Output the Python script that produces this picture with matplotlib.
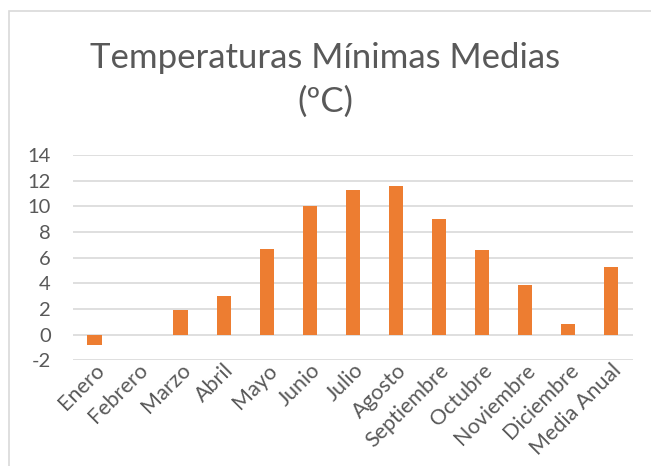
import numpy as np
import matplotlib.pyplot as plt
from matplotlib.patches import Rectangle

plt.rcParams['font.family'] = ['Lato', 'DejaVu Sans']

# datos
meses = ['Enero', 'Febrero', 'Marzo', 'Abril', 'Mayo', 'Junio', 'Julio',
         'Agosto', 'Septiembre', 'Octubre', 'Noviembre', 'Diciembre', 'Media Anual']
temp_min = [-0.8, -0.05, 1.9, 3.0, 6.7, 10.0, 11.3, 11.6, 9.0, 6.6, 3.9, 0.8, 5.3]
yticks = [-2, 0, 2, 4, 6, 8, 10, 12, 14]

gris = '#595959'

fig = plt.figure(figsize=(6.51, 4.66), dpi=100)
ax = fig.add_axes([0.112, 0.227, 0.860, 0.440])

# marco del grafico
fig.patches.append(Rectangle((9 / 651, -0.1), 1.2, 1 - 11 / 466 + 0.1,
                             transform=fig.transFigure, fill=False,
                             edgecolor='#D9D9D9', linewidth=1.2))

x = np.arange(len(meses))
ax.bar(x, temp_min, width=0.33, color='#ED7D31', zorder=3)

ax.set_ylim(-2, 14)
ax.set_xlim(-0.5, len(meses) - 0.5)
ax.set_yticks(yticks)
ax.set_yticklabels([str(v) for v in yticks])
ax.yaxis.grid(True, color='#D9D9D9', linewidth=1.2, zorder=0)
for s in ax.spines.values():
    s.set_visible(False)
ax.tick_params(axis='both', length=0, labelcolor=gris)
ax.tick_params(axis='y', pad=16, labelsize=14.5)

ax.set_xticks(x)
ax.set_xticklabels(meses, rotation=45, ha='right', va='top', rotation_mode='anchor')
ax.tick_params(axis='x', pad=0, labelsize=15.5)

fig.text(0.5, 0.828, 'Temperaturas Mínimas Medias\n(ºC)', ha='center', va='center',
         fontsize=25, color=gris, linespacing=1.45)

fig.savefig('out.png', dpi=100)
